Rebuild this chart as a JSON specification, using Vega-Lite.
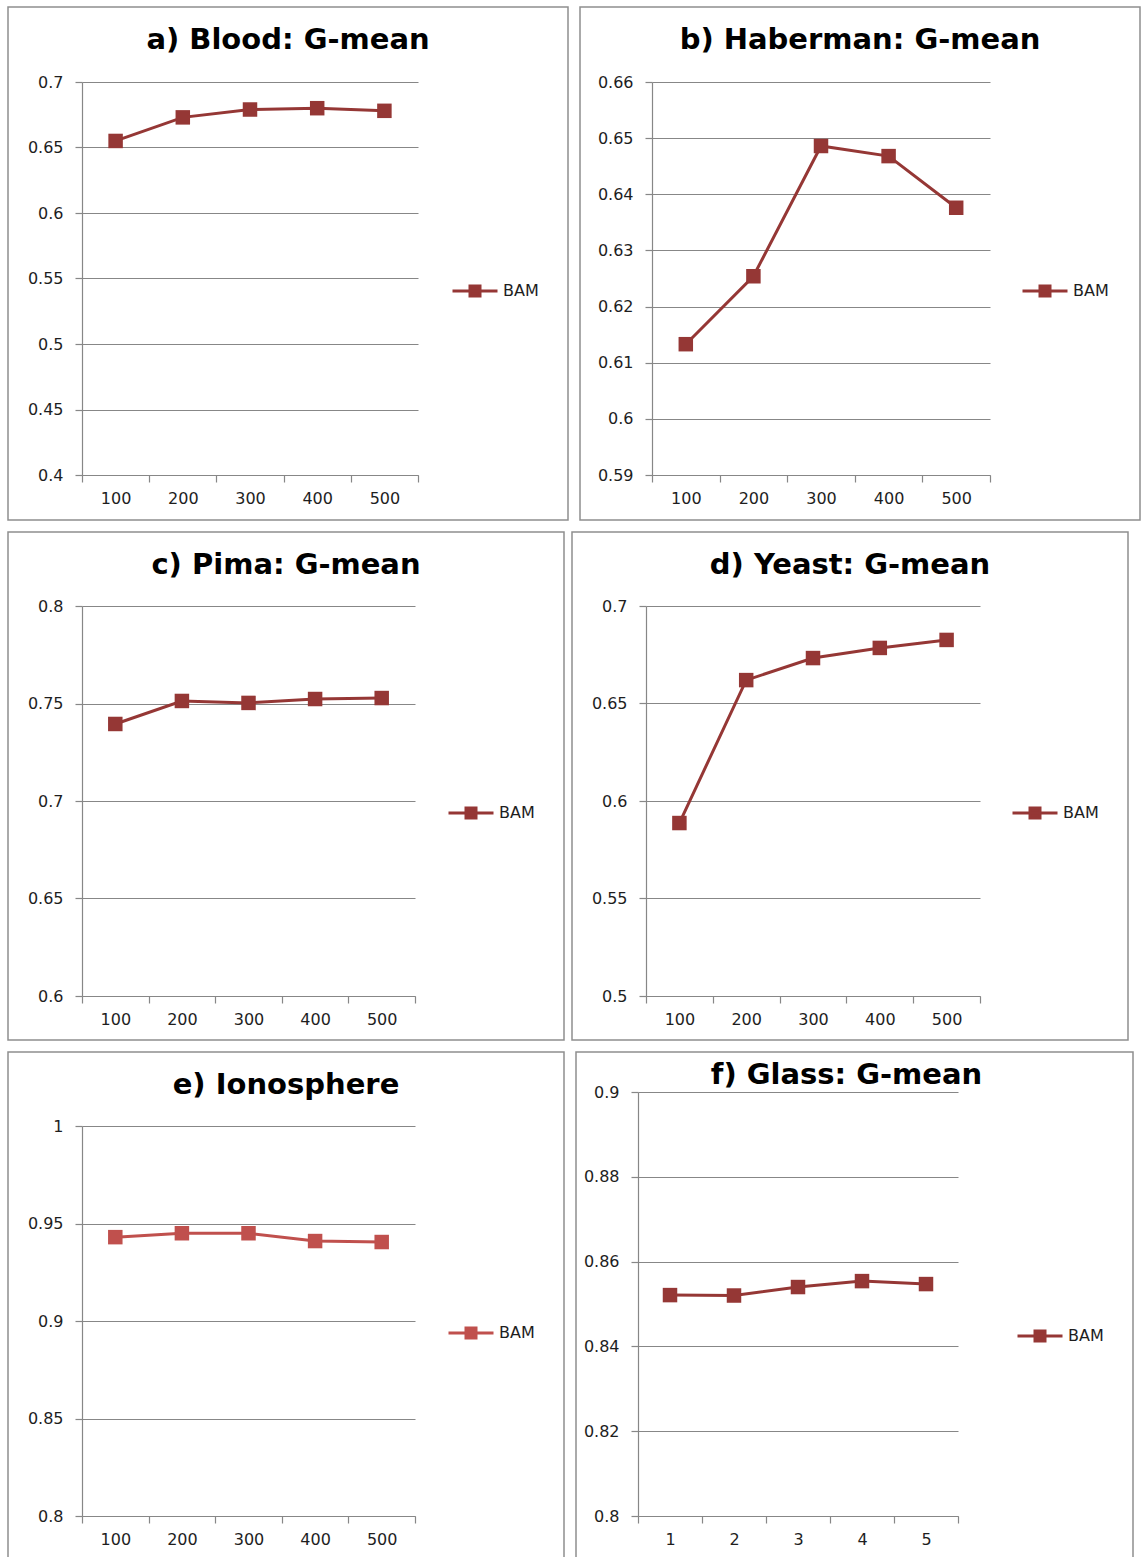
{
  "$schema": "https://vega.github.io/schema/vega-lite/v6.json",
  "padding": {"left": 7, "top": 6, "right": 0, "bottom": 0},
  "background": "white",
  "spacing": 10,
  "resolve": {"scale": {"color": "independent"}, "legend": {"color": "independent"}},
  "config": {
    "view": {"stroke": "#8f8f8f", "strokeWidth": 1.5},
    "font": "DejaVu Sans",
    "axis": {"title": null, "domainColor": "#878787", "domainWidth": 1.2, "tickColor": "#878787", "tickWidth": 1.2, "gridColor": "#878787", "gridWidth": 1.2, "labelFont": "DejaVu Sans", "labelFontSize": 16, "labelColor": "#1e1e1e", "tickSize": 7},
    "axisX": {"grid": false, "labelPadding": 8, "labelAngle": 0},
    "axisY": {"grid": true, "labelPadding": 12},
    "title": {"font": "DejaVu Sans", "fontSize": 29, "fontWeight": "bold", "color": "#000000", "anchor": "middle", "frame": "group", "offset": -48},
    "legend": {"orient": "none", "title": null, "symbolType": "M-4.5,0H4.5M-1,-1H1V1H-1Z", "symbolSize": 100, "symbolStrokeWidth": 3, "symbolStrokeColor": "#953735", "labelFont": "DejaVu Sans", "labelFontSize": 16, "labelColor": "#1e1e1e", "labelOffset": 20, "padding": 0}
  },
  "vconcat": [
    {
      "resolve": {"scale": {"color": "independent"}, "legend": {"color": "independent"}},
      "hconcat": [
        {
          "width": 560, "height": 513,
          "title": {"text": "a) Blood: G-mean"},
          "data": {"values": [
            {"n": 100, "v": 0.655, "s": "BAM"},
            {"n": 200, "v": 0.673, "s": "BAM"},
            {"n": 300, "v": 0.679, "s": "BAM"},
            {"n": 400, "v": 0.680, "s": "BAM"},
            {"n": 500, "v": 0.678, "s": "BAM"}
          ]},
          "encoding": {
            "x": {"field": "n", "type": "quantitative", "scale": {"domain": [50, 550], "range": [74, 410], "nice": false, "zero": false},
                  "axis": {"offset": -45, "values": [50, 100, 150, 200, 250, 300, 350, 400, 450, 500, 550], "format": "d", "labelExpr": "datum.value % 100 === 0 ? datum.label : ''", "tickOpacity": {"condition": {"test": "datum.value % 100 === 0", "value": 0}, "value": 1}}},
            "y": {"field": "v", "type": "quantitative", "scale": {"domain": [0.4, 0.7], "range": [468, 75], "nice": false, "zero": false},
                  "axis": {"offset": -74, "values": [0.4, 0.45, 0.5, 0.55, 0.6, 0.65, 0.7], "format": "~g"}}
          },
          "layer": [
            {"mark": {"type": "line", "color": "#953735", "strokeWidth": 3}},
            {"mark": {"type": "point", "shape": "square", "filled": true, "size": 210, "opacity": 1},
             "encoding": {"color": {"field": "s", "type": "nominal", "scale": {"range": ["#953735"]}, "legend": {"legendX": 459, "legendY": 276, "symbolStrokeColor": "#953735"}}}}
          ]
        },
        {
          "width": 560, "height": 513,
          "title": {"text": "b) Haberman: G-mean"},
          "data": {"values": [
            {"n": 100, "v": 0.6133, "s": "BAM"},
            {"n": 200, "v": 0.6254, "s": "BAM"},
            {"n": 300, "v": 0.6486, "s": "BAM"},
            {"n": 400, "v": 0.6468, "s": "BAM"},
            {"n": 500, "v": 0.6376, "s": "BAM"}
          ]},
          "encoding": {
            "x": {"field": "n", "type": "quantitative", "scale": {"domain": [50, 550], "range": [72, 410], "nice": false, "zero": false},
                  "axis": {"offset": -45, "values": [50, 100, 150, 200, 250, 300, 350, 400, 450, 500, 550], "format": "d", "labelExpr": "datum.value % 100 === 0 ? datum.label : ''", "tickOpacity": {"condition": {"test": "datum.value % 100 === 0", "value": 0}, "value": 1}}},
            "y": {"field": "v", "type": "quantitative", "scale": {"domain": [0.59, 0.66], "range": [468, 75], "nice": false, "zero": false},
                  "axis": {"offset": -72, "values": [0.59, 0.6, 0.61, 0.62, 0.63, 0.64, 0.65, 0.66], "format": "~g"}}
          },
          "layer": [
            {"mark": {"type": "line", "color": "#953735", "strokeWidth": 3}},
            {"mark": {"type": "point", "shape": "square", "filled": true, "size": 210, "opacity": 1},
             "encoding": {"color": {"field": "s", "type": "nominal", "scale": {"range": ["#953735"]}, "legend": {"legendX": 457, "legendY": 276, "symbolStrokeColor": "#953735"}}}}
          ]
        }
      ],
      "spacing": 10
    },
    {
      "resolve": {"scale": {"color": "independent"}, "legend": {"color": "independent"}},
      "hconcat": [
        {
          "width": 556, "height": 508,
          "title": {"text": "c) Pima: G-mean"},
          "data": {"values": [
            {"n": 100, "v": 0.7395, "s": "BAM"},
            {"n": 200, "v": 0.7513, "s": "BAM"},
            {"n": 300, "v": 0.7503, "s": "BAM"},
            {"n": 400, "v": 0.7523, "s": "BAM"},
            {"n": 500, "v": 0.7528, "s": "BAM"}
          ]},
          "encoding": {
            "x": {"field": "n", "type": "quantitative", "scale": {"domain": [50, 550], "range": [74, 407], "nice": false, "zero": false},
                  "axis": {"offset": -44, "values": [50, 100, 150, 200, 250, 300, 350, 400, 450, 500, 550], "format": "d", "labelExpr": "datum.value % 100 === 0 ? datum.label : ''", "tickOpacity": {"condition": {"test": "datum.value % 100 === 0", "value": 0}, "value": 1}}},
            "y": {"field": "v", "type": "quantitative", "scale": {"domain": [0.6, 0.8], "range": [464, 74], "nice": false, "zero": false},
                  "axis": {"offset": -74, "values": [0.6, 0.65, 0.7, 0.75, 0.8], "format": "~g"}}
          },
          "layer": [
            {"mark": {"type": "line", "color": "#953735", "strokeWidth": 3}},
            {"mark": {"type": "point", "shape": "square", "filled": true, "size": 210, "opacity": 1},
             "encoding": {"color": {"field": "s", "type": "nominal", "scale": {"range": ["#953735"]}, "legend": {"legendX": 455, "legendY": 273, "symbolStrokeColor": "#953735"}}}}
          ]
        },
        {
          "width": 556, "height": 508,
          "title": {"text": "d) Yeast: G-mean"},
          "data": {"values": [
            {"n": 100, "v": 0.5887, "s": "BAM"},
            {"n": 200, "v": 0.662, "s": "BAM"},
            {"n": 300, "v": 0.6733, "s": "BAM"},
            {"n": 400, "v": 0.6785, "s": "BAM"},
            {"n": 500, "v": 0.6826, "s": "BAM"}
          ]},
          "encoding": {
            "x": {"field": "n", "type": "quantitative", "scale": {"domain": [50, 550], "range": [74, 408], "nice": false, "zero": false},
                  "axis": {"offset": -44, "values": [50, 100, 150, 200, 250, 300, 350, 400, 450, 500, 550], "format": "d", "labelExpr": "datum.value % 100 === 0 ? datum.label : ''", "tickOpacity": {"condition": {"test": "datum.value % 100 === 0", "value": 0}, "value": 1}}},
            "y": {"field": "v", "type": "quantitative", "scale": {"domain": [0.5, 0.7], "range": [464, 74], "nice": false, "zero": false},
                  "axis": {"offset": -74, "values": [0.5, 0.55, 0.6, 0.65, 0.7], "format": "~g"}}
          },
          "layer": [
            {"mark": {"type": "line", "color": "#953735", "strokeWidth": 3}},
            {"mark": {"type": "point", "shape": "square", "filled": true, "size": 210, "opacity": 1},
             "encoding": {"color": {"field": "s", "type": "nominal", "scale": {"range": ["#953735"]}, "legend": {"legendX": 455, "legendY": 273, "symbolStrokeColor": "#953735"}}}}
          ]
        }
      ],
      "spacing": 6
    },
    {
      "resolve": {"scale": {"color": "independent"}, "legend": {"color": "independent"}},
      "hconcat": [
        {
          "width": 556, "height": 510,
          "title": {"text": "e) Ionosphere"},
          "data": {"values": [
            {"n": 100, "v": 0.943, "s": "BAM"},
            {"n": 200, "v": 0.945, "s": "BAM"},
            {"n": 300, "v": 0.945, "s": "BAM"},
            {"n": 400, "v": 0.941, "s": "BAM"},
            {"n": 500, "v": 0.9405, "s": "BAM"}
          ]},
          "encoding": {
            "x": {"field": "n", "type": "quantitative", "scale": {"domain": [50, 550], "range": [74, 407], "nice": false, "zero": false},
                  "axis": {"offset": -46, "values": [50, 100, 150, 200, 250, 300, 350, 400, 450, 500, 550], "format": "d", "labelExpr": "datum.value % 100 === 0 ? datum.label : ''", "tickOpacity": {"condition": {"test": "datum.value % 100 === 0", "value": 0}, "value": 1}}},
            "y": {"field": "v", "type": "quantitative", "scale": {"domain": [0.8, 1], "range": [464, 74], "nice": false, "zero": false},
                  "axis": {"offset": -74, "values": [0.8, 0.85, 0.9, 0.95, 1], "format": "~g"}}
          },
          "layer": [
            {"mark": {"type": "line", "color": "#c0504d", "strokeWidth": 3}},
            {"mark": {"type": "point", "shape": "square", "filled": true, "size": 210, "opacity": 1},
             "encoding": {"color": {"field": "s", "type": "nominal", "scale": {"range": ["#c0504d"]}, "legend": {"legendX": 455, "legendY": 273, "symbolStrokeColor": "#c0504d"}}}}
          ]
        },
        {
          "width": 557, "height": 510,
          "title": {"text": "f) Glass: G-mean", "offset": -38, "dx": -8},
          "data": {"values": [
            {"n": 1, "v": 0.8521, "s": "BAM"},
            {"n": 2, "v": 0.852, "s": "BAM"},
            {"n": 3, "v": 0.854, "s": "BAM"},
            {"n": 4, "v": 0.8554, "s": "BAM"},
            {"n": 5, "v": 0.8547, "s": "BAM"}
          ]},
          "encoding": {
            "x": {"field": "n", "type": "quantitative", "scale": {"domain": [0.5, 5.5], "range": [62, 382], "nice": false, "zero": false},
                  "axis": {"offset": -46, "values": [0.5, 1, 1.5, 2, 2.5, 3, 3.5, 4, 4.5, 5, 5.5], "labelExpr": "datum.value % 1 === 0 ? format(datum.value, 'd') : ''", "tickOpacity": {"condition": {"test": "datum.value % 1 === 0", "value": 0}, "value": 1}}},
            "y": {"field": "v", "type": "quantitative", "scale": {"domain": [0.8, 0.9], "range": [464, 40], "nice": false, "zero": false},
                  "axis": {"offset": -62, "values": [0.8, 0.82, 0.84, 0.86, 0.88, 0.9], "format": "~g"}}
          },
          "layer": [
            {"mark": {"type": "line", "color": "#953735", "strokeWidth": 3}},
            {"mark": {"type": "point", "shape": "square", "filled": true, "size": 210, "opacity": 1},
             "encoding": {"color": {"field": "s", "type": "nominal", "scale": {"range": ["#953735"]}, "legend": {"legendX": 456, "legendY": 276, "symbolStrokeColor": "#953735"}}}}
          ]
        }
      ],
      "spacing": 10
    }
  ]
}
